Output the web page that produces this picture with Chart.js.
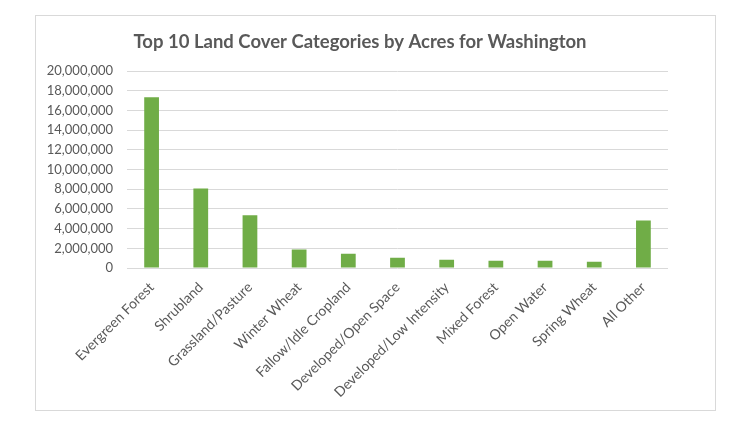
<!DOCTYPE html>
<html>
<head>
<meta charset="utf-8">
<script src="https://cdn.jsdelivr.net/npm/chart.js@4"></script>
<style>
    body { margin: 0; background: #ffffff; }
    #frame {
        position: absolute; left: 35px; top: 15px;
        width: 679px; height: 394px;
        border: 1px solid #d9d9d9;
    }
    #wrap { position: absolute; left: 36px; top: 16px; width: 648px; height: 393px; }
</style>
</head>
<body>
<div id="frame"></div>
<div id="wrap"><canvas id="landChart"></canvas></div>
<script>
// Top 10 land cover categories, Washington (acres)
const categories = [
    'Evergreen Forest', 'Shrubland', 'Grassland/Pasture', 'Winter Wheat',
    'Fallow/Idle Cropland', 'Developed/Open Space', 'Developed/Low Intensity',
    'Mixed Forest', 'Open Water', 'Spring Wheat', 'All Other'
];
const acres = [
    17350000, 8090000, 5370000, 1870000, 1460000, 1050000,
    850000, 740000, 730000, 640000, 4830000
];
const yMax = 20000000;
const yStep = 2000000;

const textColor = '#595959';
const gridColor = '#d9d9d9';
const barColor = '#70ad47';

Chart.defaults.font.family = "Lato, 'Liberation Sans', sans-serif";
Chart.defaults.color = textColor;

new Chart(document.getElementById('landChart'), {
    type: 'bar',
    data: {
        labels: categories,
        datasets: [{
            label: 'Acres',
            data: acres,
            backgroundColor: barColor,
            borderWidth: 0,
            barPercentage: 0.3,
            categoryPercentage: 1.0
        }]
    },
    options: {
        responsive: true,
        maintainAspectRatio: false,
        animation: false,
        layout: { padding: 0 },
        scales: {
            x: {
                grid: { display: false },
                border: { display: false },
                ticks: {
                    font: { size: 14 },
                    color: textColor,
                    minRotation: 45,
                    maxRotation: 45,
                    padding: 3
                },
                afterFit: (scale) => { scale.height = 141; }
            },
            y: {
                min: 0,
                max: yMax,
                grid: { color: gridColor, drawTicks: false },
                border: { display: false },
                ticks: {
                    stepSize: yStep,
                    font: { size: 13 },
                    color: textColor,
                    padding: 14,
                    callback: (v) => v.toLocaleString('en-US')
                },
                afterFit: (scale) => { scale.width = 91; }
            },
            // empty right-hand spacer so the title stays centred on the frame
            spacer: {
                type: 'linear',
                position: 'right',
                grid: { display: false },
                border: { display: false },
                ticks: { display: false },
                afterFit: (scale) => { scale.width = 16; }
            }
        },
        plugins: {
            legend: { display: false },
            tooltip: { enabled: false },
            title: {
                display: true,
                text: 'Top 10 Land Cover Categories by Acres for Washington',
                color: textColor,
                font: { size: 18.5, weight: 'bold' },
                padding: { top: 15, bottom: 18 }
            }
        }
    }
});
</script>
</body>
</html>
